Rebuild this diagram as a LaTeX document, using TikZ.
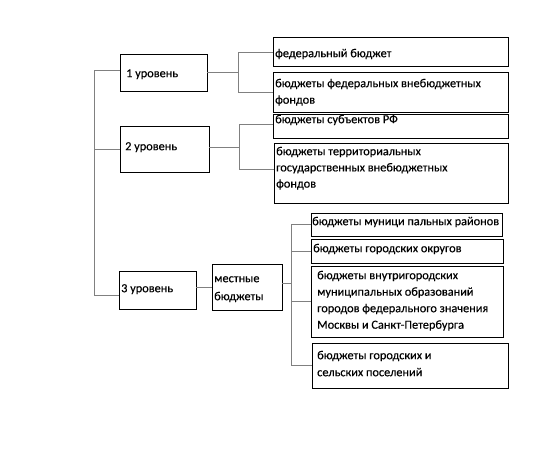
\documentclass[tikz,border=0pt]{standalone}
\usepackage{fontspec}
\setmainfont{Carlito}[UprightFeatures={FakeBold=0.35}]
\newcommand\mybox[9]{%
  \node[bx, minimum width={#4-#2}, minimum height={#5-#3}] (#1) at ({(#2+#4)/2},{(#3+#5)/2}) {};
  \node[txt, font={\fontsize{12.3}{#8}\selectfont}] (#1t) at (#6,{#7-10}) {\rule{0pt}{10pt}#9};}
\begin{document}
\begin{tikzpicture}[x=1pt,y=-1pt,
  bx/.style={draw=black, line width=0.8pt, inner sep=0pt},
  txt/.style={anchor=north west, inner sep=0pt, align=left},
  ln/.style={draw=black!50, line width=0.9pt}]
\useasboundingbox (0,0) rectangle (543,457);
% level boxes
\mybox{L1}{120}{54}{207}{91}{126}{77}{13.5}{1 уровень}
\mybox{L2}{120}{126}{209}{172}{125}{150}{13.5}{2 уровень}
\mybox{L3}{119}{271}{196}{309}{121}{292}{13.5}{3 уровень}
\mybox{M}{212}{264}{282}{310}{214}{282}{18}{местные\\бюджеты}
% right boxes
\mybox{F1}{273}{37}{508}{66}{275}{57}{13.5}{федеральный бюджет}
\mybox{F2}{273}{72}{508}{112}{275}{87}{16.5}{бюджеты федеральных внебюджетных\\фондов}
\mybox{F3}{273}{114}{508}{138}{275}{123}{13.5}{бюджеты субъектов РФ}
\mybox{F4}{274}{143}{508}{203}{276}{155}{16.2}{бюджеты территориальных\\государственных внебюджетных\\фондов}
\mybox{A}{311}{213}{502}{236}{312}{225}{13.5}{бюджеты муници пальных районов}
\mybox{B}{311}{239}{503}{263}{313}{252}{13.5}{бюджеты городских округов}
\mybox{C}{311}{266}{503}{337}{317}{279}{16.5}{бюджеты внутригородских\\муниципальных образований\\городов федерального значения\\Москвы и Санкт-Петербурга}
\mybox{D}{312}{343}{508}{388}{317}{359}{17}{бюджеты городских и\\сельских поселений}
% connectors
\coordinate (sp) at (94,0);
\coordinate (j1) at (238,0);
\coordinate (j2) at (239,0);
\coordinate (j3) at (291,0);
\draw[ln] ([yshift=2pt]L1.west) -- ([yshift=2pt]L1.west -| sp) -- ([yshift=-5pt]L3.west -| sp) -- ([yshift=-5pt]L3.west);
\draw[ln] (L2.west -| sp) -- (L2.west);
\draw[ln] (L1.east) -- (L1.east -| j1);
\draw[ln] ([yshift=-1pt]F1.west) -| (j1 |- F2.west) -- (F2.west);
\draw[ln] ([yshift=2pt]L2.east) -- ([yshift=2pt]L2.east -| j2);
\draw[ln] ([yshift=2pt]F3.west) -| ([yshift=4pt]j2 |- F4.west) -- ([yshift=4pt]F4.west);
\draw[ln] (M.west -| L3.east) -- (M.west);
\draw[ln] ([yshift=4pt]M.east) -- ([yshift=4pt]M.east -| j3);
\draw[ln] (A.west) -| (j3 |- D.west) -- (D.west);
\draw[ln] (j3 |- B.west) -- (B.west);
\draw[ln] (j3 |- C.west) -- (C.west);
\end{tikzpicture}
\end{document}
